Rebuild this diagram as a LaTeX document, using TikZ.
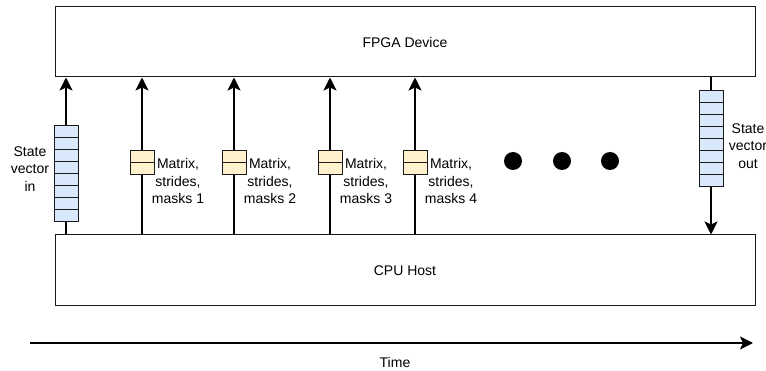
\documentclass[tikz,border=0pt]{standalone}
\usepackage{fontspec}
\setmainfont{Liberation Sans}
\usetikzlibrary{arrows.meta}
\definecolor{qblue}{HTML}{DAE8FC}
\definecolor{qyellow}{HTML}{FFF2CC}
\definecolor{edge}{HTML}{1A1A1A}

\begin{document}
\begin{tikzpicture}[x=1pt,y=-1pt,
  panel/.style={draw=edge, line width=1pt, minimum width=700pt, minimum height=70pt,
                inner sep=0pt, font=\fontsize{14}{16}\selectfont},
  flow/.style={line width=2pt, -{Stealth[length=13pt,width=13pt,inset=3pt]}},
  vcell/.style={draw=edge, line width=1pt, fill=qblue, minimum width=24pt,
                minimum height=12pt, inner sep=0pt, outer sep=0pt},
  mcell/.style={draw=edge, line width=1pt, fill=qyellow, minimum width=24pt,
                minimum height=12pt, inner sep=0pt, outer sep=0pt},
  lbl/.style={align=center, inner sep=0pt, font=\fontsize{14}{17.5}\selectfont},
  dot/.style={circle, fill=black, minimum size=18pt, inner sep=0pt}]
\useasboundingbox (0,0) rectangle (766,371);

% host and device
\node[panel] (fpga) at (405,42) {FPGA Device};
\node[panel, minimum height=71pt] (cpu) at (405,270.5) {CPU Host};

% state vector in
\coordinate (qinx) at (66,0);
\draw[flow] (cpu.north -| qinx) -- (fpga.south -| qinx);
\foreach \i in {0,...,7} \node[vcell] (qin\i) at (66,132+12*\i) {};
\node[lbl] (lin) at (30,169) {State\\vector\\in};

% matrix transfers
\foreach \k/\x in {1/142,2/234,3/330,4/415} {
  \coordinate (mx\k) at (\x,0);
  \draw[flow] (cpu.north -| mx\k) -- (fpga.south -| mx\k);
  \node[mcell] (m\k a) at (\x,157) {};
  \node[mcell] (m\k b) at (\x,169) {};
  \node[lbl] (ml\k) at (\x+36,181) {Matrix,\\strides,\\masks \k};
}

% ellipsis
\node[dot] (d1) at (513,161) {};
\node[dot] (d2) at (562,161) {};
\node[dot] (d3) at (610,161) {};

% state vector out
\coordinate (qoutx) at (711,0);
\draw[flow] (fpga.south -| qoutx) -- (cpu.north -| qoutx);
\foreach \i in {0,...,7} \node[vcell] (qout\i) at (711,97+12*\i) {};
\node[lbl] (lout) at (748,146) {State\\vector\\out};

% time axis
\coordinate (t0) at (30,343);
\coordinate (t1) at (753,343);
\draw[flow] (t0) -- (t1);
\node[lbl] (time) at (395,362) {Time};
\end{tikzpicture}
\end{document}
